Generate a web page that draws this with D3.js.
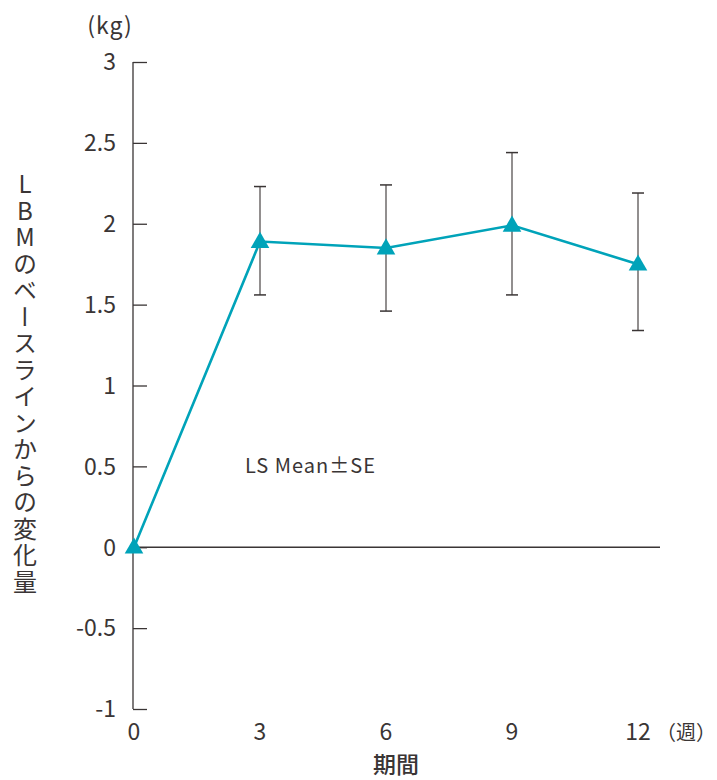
<!DOCTYPE html>
<html>
<head>
<meta charset="utf-8">
<script src="https://cdn.jsdelivr.net/npm/d3@7"></script>
<style>
  html, body { margin: 0; padding: 0; background: #fff; }
  svg text { font-family: "Noto Sans CJK JP", "Noto Sans", sans-serif; fill: #3a3535; }
</style>
</head>
<body>
<svg id="chart" width="717" height="780"></svg>
<script>
// Weeks from baseline and the LBM change (kg), least-squares mean with ±SE bounds
const weeks = [0, 3, 6, 9, 12];
const lsMean = [0, 1.89, 1.85, 1.99, 1.75];
const upperSE = [null, 2.23, 2.24, 2.44, 2.19];
const lowerSE = [null, 1.56, 1.46, 1.56, 1.34];
const yTicks = [-1, -0.5, 0, 0.5, 1, 1.5, 2, 2.5, 3];
const xTicks = [0, 3, 6, 9, 12];

const ink = "#3a3535";
const teal = "#00a3b9";

const svg = d3.select("#chart");
const x = d3.scaleLinear().domain([0, 12]).range([134, 638]);
const y = d3.scaleLinear().domain([-1, 3]).range([709, 62]);

// Y axis with inward ticks
const yAxis = d3.axisRight(y).tickValues(yTicks).tickSize(14).tickFormat("");
const gy = svg.append("g").attr("transform", `translate(${x(0) - 1},0)`).call(yAxis);
gy.select(".domain").attr("stroke", ink).attr("stroke-width", 1.3).attr("d", `M0,${y(3)}V${y(-1)}`);
gy.selectAll(".tick line").attr("stroke", ink).attr("stroke-width", 1.3);

svg.append("g").selectAll("text").data(yTicks).join("text")
  .attr("x", 116).attr("y", d => y(d)).attr("dy", "0.36em")
  .attr("text-anchor", "end").attr("font-size", 23)
  .text(d => String(d));

// X tick labels (no axis line at the bottom)
svg.append("g").selectAll("text").data(xTicks).join("text")
  .attr("x", d => x(d)).attr("y", 740)
  .attr("text-anchor", "middle").attr("font-size", 23)
  .text(d => d);

// Zero reference line
svg.append("line")
  .attr("x1", x(0) - 1).attr("x2", 660)
  .attr("y1", y(0)).attr("y2", y(0))
  .attr("stroke", ink).attr("stroke-width", 1.3);

// Error bars
const bars = weeks.map((w, i) => ({ w, lo: lowerSE[i], hi: upperSE[i] })).filter(d => d.hi !== null);
const eb = svg.append("g");
eb.selectAll("line.v").data(bars).join("line")
  .attr("x1", d => x(d.w)).attr("x2", d => x(d.w))
  .attr("y1", d => y(d.hi)).attr("y2", d => y(d.lo))
  .attr("stroke", "#6e6a6a").attr("stroke-width", 1.5);
eb.selectAll("line.top").data(bars).join("line")
  .attr("x1", d => x(d.w) - 6).attr("x2", d => x(d.w) + 6)
  .attr("y1", d => y(d.hi)).attr("y2", d => y(d.hi))
  .attr("stroke", ink).attr("stroke-width", 1.5);
eb.selectAll("line.bot").data(bars).join("line")
  .attr("x1", d => x(d.w) - 6).attr("x2", d => x(d.w) + 6)
  .attr("y1", d => y(d.lo)).attr("y2", d => y(d.lo))
  .attr("stroke", ink).attr("stroke-width", 1.5);

// Mean line and triangle markers
const pts = weeks.map((w, i) => [w, lsMean[i]]);
svg.append("path")
  .attr("d", d3.line().x(d => x(d[0])).y(d => y(d[1]))(pts))
  .attr("fill", "none").attr("stroke", teal).attr("stroke-width", 2.6);
svg.append("g").selectAll("path").data(pts).join("path")
  .attr("transform", d => `translate(${x(d[0])},${y(d[1]) + 1})`)
  .attr("d", d3.symbol(d3.symbolTriangle, 150))
  .attr("fill", teal);

// Annotations and axis titles
svg.append("text").attr("x", 245).attr("y", 473).attr("font-size", 20)
  .style("letter-spacing", "1px").text("LS Mean±SE");
svg.append("text").attr("x", 110).attr("y", 34).attr("text-anchor", "middle")
  .attr("font-size", 23).style("letter-spacing", "1px").text("(kg)");
svg.append("text").attr("x", 656).attr("y", 740).attr("font-size", 20).text("（週）");
svg.append("text").attr("x", 396).attr("y", 773).attr("text-anchor", "middle")
  .attr("font-size", 23).attr("font-weight", 500).text("期間");
svg.append("text")
  .attr("x", 25).attr("y", 172)
  .attr("font-size", 24)
  .style("writing-mode", "vertical-rl")
  .style("text-orientation", "upright")
  .style("letter-spacing", "2.5px")
  .text("LBMのベースラインからの変化量");
</script>
</body>
</html>
